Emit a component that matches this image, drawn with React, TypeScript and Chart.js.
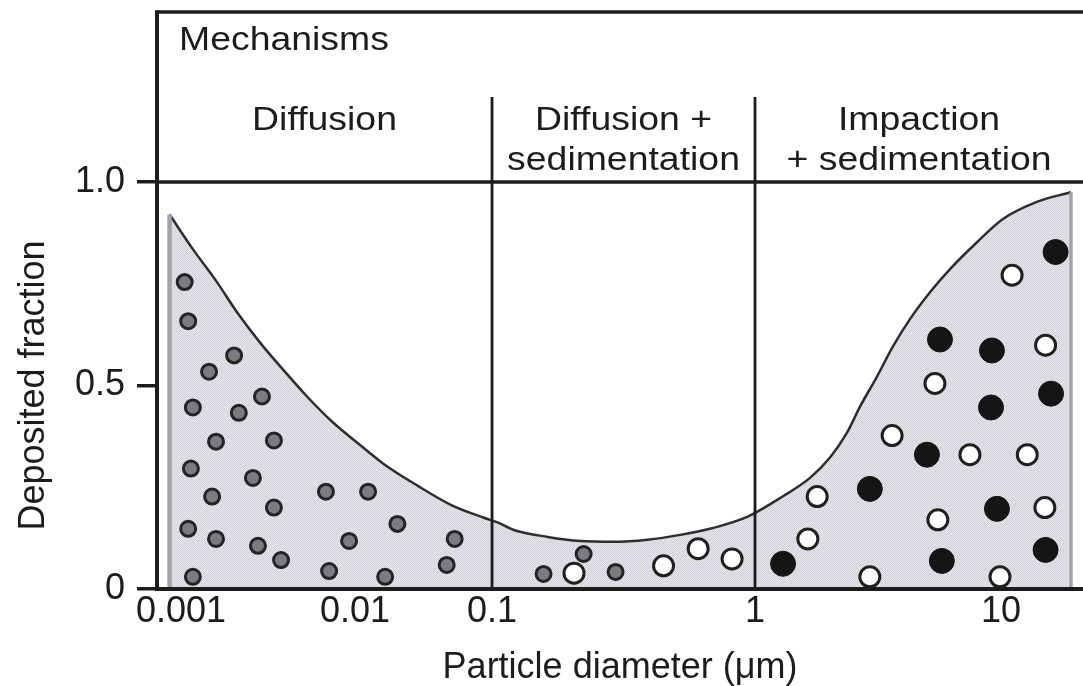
import { useEffect, useRef } from 'react';
import { Chart, registerables, LinearScale } from 'chart.js';

// ---- Deposition envelope: particle diameter (µm) vs deposited fraction ----
const curveDiameter = [
  0.00086, 0.00117, 0.00161, 0.0021, 0.00284, 0.00386, 0.0053, 0.00748, 0.01034,
  0.0161, 0.0286, 0.05, 0.0873, 0.1054, 0.121, 0.163, 0.217, 0.29, 0.39, 0.52,
  0.693, 0.933, 1.3, 1.673, 2.018, 2.366, 2.672, 3.133, 3.639, 4.266, 5.145, 6.206,
  7.99, 10.19, 14.0, 19.3,
];
const curveFraction = [
  0.92, 0.835, 0.754, 0.68, 0.606, 0.539, 0.473, 0.409, 0.36,
  0.308, 0.254, 0.207, 0.175, 0.163, 0.145, 0.128, 0.118, 0.116, 0.121, 0.133,
  0.15, 0.177, 0.228, 0.273, 0.323, 0.384, 0.448, 0.522, 0.596, 0.663, 0.729, 0.786,
  0.852, 0.909, 0.951, 0.975,
];

// ---- Particles drawn inside the envelope ----
// small grey particles (diffusion)
const fineDiameter = [
  0.00105, 0.0011, 0.00202, 0.00145, 0.00292, 0.00117, 0.00215, 0.00159, 0.00342,
  0.00114, 0.00259, 0.00151, 0.00342, 0.00681, 0.01246, 0.0011, 0.00159, 0.0204,
  0.00277, 0.00925, 0.0534, 0.00376, 0.0071, 0.0467, 0.0166, 0.00117, 0.223, 0.157, 0.295,
];
const fineFraction = [
  0.754, 0.658, 0.574, 0.534, 0.473, 0.446, 0.433, 0.362, 0.365,
  0.296, 0.273, 0.227, 0.2, 0.239, 0.239, 0.148, 0.123, 0.16,
  0.106, 0.118, 0.123, 0.071, 0.044, 0.059, 0.03, 0.03, 0.086, 0.037, 0.042,
];
// open white particles
const openDiameter = [
  0.205, 0.449, 0.608, 0.818, 11.1, 15.2, 5.39, 3.61, 7.48, 12.8, 1.79, 5.54, 15.1, 1.64, 2.93, 9.91,
];
const openFraction = [
  0.039, 0.057, 0.099, 0.074, 0.771, 0.599, 0.505, 0.377, 0.33, 0.33, 0.227, 0.17, 0.2, 0.123, 0.03, 0.03,
];
// solid black particles
const solidDiameter = [16.7, 5.65, 9.19, 16.0, 9.11, 5.0, 2.93, 9.63, 15.2, 5.75, 1.3];
const solidFraction = [0.828, 0.613, 0.586, 0.48, 0.446, 0.33, 0.246, 0.197, 0.096, 0.069, 0.062];

// ---- Axes ----
const xTickValues = [0.001, 0.01, 0.1, 1, 10];
const xTickLabels = ['0.001', '0.01', '0.1', '1', '10'];
const yTickValues = [0, 0.5, 1.0];
const yTickLabels = ['0', '0.5', '1.0'];

// ---- Mechanism bands above the plot ----
const mechanismBoundaries = [0.1, 1];
const mechanismNames = [['Diffusion'], ['Diffusion +', 'sedimentation'], ['Impaction', '+ sedimentation']];
const headerTitle = 'Mechanisms';

const INK = '#1c1c1c';
const FONT_FAMILY = '"Liberation Sans", Arial, Helvetica, sans-serif';
const HEADER_HEIGHT = 170;

// Log axis whose decades are not evenly spaced: each stop pins a value to a
// fraction of the axis length, with log interpolation in between.
type Stop = { value: number; at: number };

class SchematicLogScale extends LinearScale {
  static id = 'schematicLog';
  static defaults = {};

  stopList(): Stop[] {
    return (this.options as any).stops as Stop[];
  }

  determineDataLimits() {
    const s = this.stopList();
    this.min = s[0].value;
    this.max = s[s.length - 1].value;
  }

  buildTicks() {
    const values = ((this.options as any).tickValues as number[]) || [];
    return values.map((v) => ({ value: v }));
  }

  toDecimal(v: number) {
    const s = this.stopList();
    const lv = Math.log10(v);
    let i = 0;
    while (i < s.length - 2 && lv > Math.log10(s[i + 1].value)) i++;
    const a = s[i];
    const b = s[i + 1];
    const la = Math.log10(a.value);
    const lb = Math.log10(b.value);
    return a.at + ((lv - la) / (lb - la)) * (b.at - a.at);
  }

  getPixelForValue(v: number) {
    if (v === null || v === undefined || !(v > 0)) return NaN;
    return this.getPixelForDecimal(this.toDecimal(v));
  }

  getValueForPixel(px: number) {
    const d = this.getDecimalForPixel(px);
    const s = this.stopList();
    let i = 0;
    while (i < s.length - 2 && d > s[i + 1].at) i++;
    const a = s[i];
    const b = s[i + 1];
    const la = Math.log10(a.value);
    const lb = Math.log10(b.value);
    return Math.pow(10, la + ((d - a.at) / (b.at - a.at)) * (lb - la));
  }
}

Chart.register(...registerables, SchematicLogScale);

const xStops: Stop[] = [
  { value: 0.000728, at: 0 },
  { value: 0.001, at: 0.0259 },
  { value: 0.01, at: 0.2138 },
  { value: 0.1, at: 0.3618 },
  { value: 1, at: 0.6458 },
  { value: 10, at: 0.9114 },
  { value: 21.6, at: 1 },
];

function halftoneFill(): CanvasPattern | string {
  const c = document.createElement('canvas');
  c.width = 2;
  c.height = 2;
  const g = c.getContext('2d');
  if (!g) return 'rgb(220,219,227)';
  g.fillStyle = 'rgb(230,229,236)';
  g.fillRect(0, 0, 2, 2);
  g.fillStyle = 'rgb(211,210,219)';
  g.fillRect(0, 0, 1, 1);
  g.fillRect(1, 1, 1, 1);
  return g.createPattern(c, 'repeat') || 'rgb(220,219,227)';
}

const pairs = (xs: number[], ys: number[]) => xs.map((x, i) => ({ x, y: ys[i] }));

const frameAndHeader = {
  id: 'frameAndHeader',
  afterDatasetsDraw(chart: any) {
    const { ctx, chartArea, scales } = chart;
    const { left, right, top, bottom } = chartArea;
    const xs = scales.x;
    const frameTop = top - HEADER_HEIGHT;
    const seg = (x1: number, y1: number, x2: number, y2: number, w: number) => {
      ctx.beginPath();
      ctx.lineWidth = w;
      ctx.moveTo(x1, y1);
      ctx.lineTo(x2, y2);
      ctx.stroke();
    };
    ctx.save();
    ctx.strokeStyle = INK;
    ctx.lineCap = 'butt';
    seg(left, frameTop, right, frameTop, 3.5);
    seg(left, top, right, top, 3.5);
    seg(left, frameTop - 1.75, left, bottom + 2, 4);
    seg(left, bottom, right, bottom, 4);

    const bounds = mechanismBoundaries.map((b) => xs.getPixelForValue(b));
    bounds.forEach((px: number) => seg(px, frameTop + 85, px, bottom, 2.8));

    ctx.fillStyle = INK;
    ctx.font = `34px ${FONT_FAMILY}`;
    ctx.textBaseline = 'alphabetic';
    const stretched = (text: string, cx: number, baseline: number, align: CanvasTextAlign) => {
      ctx.save();
      ctx.translate(cx, baseline);
      ctx.scale(1.1, 1);
      ctx.textAlign = align;
      ctx.fillText(text, 0, 0);
      ctx.restore();
    };
    stretched(headerTitle, left + 22, frameTop + 38, 'left');

    const edges = [left, ...bounds, right];
    mechanismNames.forEach((lines, i) => {
      const cx = (edges[i] + edges[i + 1]) / 2;
      lines.forEach((t, j) => stretched(t, cx, frameTop + 118 + j * 40, 'center'));
    });
    ctx.restore();
  },
};

export default function App() {
  const canvasRef = useRef<HTMLCanvasElement | null>(null);

  useEffect(() => {
    document.body.style.margin = '0';
    const canvas = canvasRef.current;
    if (!canvas) return;

    const axisFont = { family: FONT_FAMILY, size: 36 };
    const pattern = halftoneFill();

    const chart = new Chart(canvas, {
      type: 'line',
      data: {
        datasets: [
          {
            label: 'Deposited fraction',
            data: pairs(curveDiameter, curveFraction),
            borderColor: '#2e2e2e',
            borderWidth: 2.5,
            backgroundColor: pattern as any,
            fill: 'origin',
            pointRadius: 0,
            cubicInterpolationMode: 'monotone',
            order: 5,
          },
          {
            label: 'lower edge',
            data: [
              { x: curveDiameter[0], y: 0 },
              { x: curveDiameter[0], y: curveFraction[0] },
            ],
            borderColor: '#a3a2a9',
            borderWidth: 4.5,
            pointRadius: 0,
            fill: false,
            order: 4,
          },
          {
            label: 'upper edge',
            data: [
              { x: curveDiameter[curveDiameter.length - 1], y: 0 },
              { x: curveDiameter[curveDiameter.length - 1], y: curveFraction[curveFraction.length - 1] },
            ],
            borderColor: '#a3a2a9',
            borderWidth: 3.5,
            pointRadius: 0,
            fill: false,
            order: 4,
          },
          {
            label: 'fine particles',
            data: pairs(fineDiameter, fineFraction),
            showLine: false,
            pointRadius: 7.5,
            pointBorderWidth: 3,
            pointBackgroundColor: '#7c7c80',
            pointBorderColor: '#242424',
            order: 1,
          },
          {
            label: 'open particles',
            data: pairs(openDiameter, openFraction),
            showLine: false,
            pointRadius: 10,
            pointBorderWidth: 3,
            pointBackgroundColor: '#ffffff',
            pointBorderColor: '#202020',
            order: 1,
          },
          {
            label: 'solid particles',
            data: pairs(solidDiameter, solidFraction),
            showLine: false,
            pointRadius: 12.5,
            pointBorderWidth: 1,
            pointBackgroundColor: '#151515',
            pointBorderColor: '#151515',
            order: 1,
          },
        ],
      },
      options: {
        animation: false,
        responsive: false,
        maintainAspectRatio: false,
        events: [],
        layout: {
          autoPadding: false,
          padding: { top: HEADER_HEIGHT + 12, right: 0, bottom: 0, left: 0 },
        },
        plugins: {
          legend: { display: false },
          tooltip: { enabled: false },
        },
        scales: {
          x: {
            type: 'schematicLog' as any,
            stops: xStops,
            tickValues: xTickValues,
            grid: { display: false, drawTicks: false },
            border: { display: false },
            ticks: {
              font: axisFont,
              color: INK,
              padding: 1,
              autoSkip: false,
              maxRotation: 0,
              minRotation: 0,
              callback: (_v: any, i: number) => xTickLabels[i],
            },
            title: {
              display: true,
              text: 'Particle diameter (μm)',
              color: INK,
              font: { family: FONT_FAMILY, size: 36, lineHeight: 1 },
              padding: 0,
            },
            afterFit: (s: any) => {
              s.height = 97;
              s.paddingLeft = 0;
              s.paddingRight = 0;
            },
          } as any,
          y: {
            min: 0,
            max: 1,
            afterBuildTicks: (s: any) => {
              s.ticks = yTickValues.map((v) => ({ value: v }));
            },
            grid: {
              drawOnChartArea: false,
              drawTicks: true,
              tickLength: 20,
              lineWidth: 3.5,
              color: INK,
            },
            border: { display: false },
            ticks: {
              font: axisFont,
              color: INK,
              padding: 12,
              callback: (_v: any, i: number) => yTickLabels[i],
            },
            title: {
              display: true,
              text: 'Deposited fraction',
              color: INK,
              font: { family: FONT_FAMILY, size: 36 },
              padding: { top: 12, bottom: 0 },
            },
            afterFit: (s: any) => {
              s.width = 157;
              s.paddingTop = 0;
              s.paddingBottom = 0;
            },
          },
        },
      },
      plugins: [frameAndHeader],
    });

    return () => chart.destroy();
  }, []);

  return (
    <canvas
      ref={canvasRef}
      width={1083}
      height={686}
      style={{ display: 'block', width: 1083, height: 686 }}
    />
  );
}
